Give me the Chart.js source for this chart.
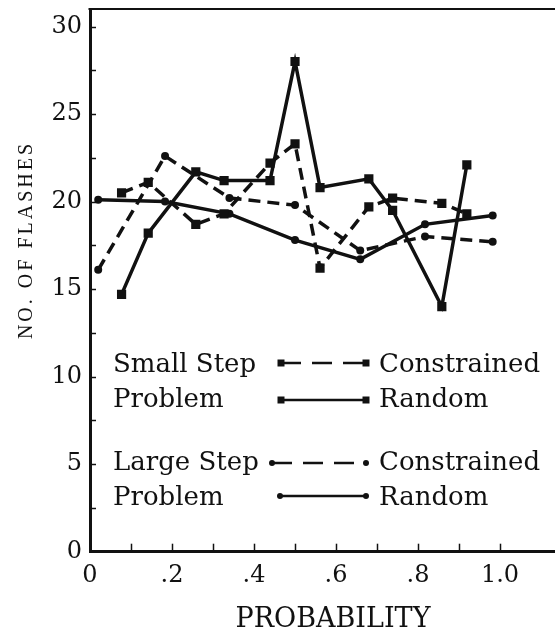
<!DOCTYPE html>
<html>
<head>
<meta charset="utf-8">
<script src="https://cdn.jsdelivr.net/npm/chart.js@4.4.0/dist/chart.umd.min.js"></script>
<style>
  html, body { margin: 0; padding: 0; background: #fff; }
  canvas { display: block; }
</style>
</head>
<body>
<canvas id="flashes" width="555" height="631"></canvas>
<script>
// values
const smallStepX = [0.077, 0.142, 0.258, 0.327, 0.439, 0.5, 0.561, 0.68, 0.738, 0.858, 0.919];
const smallConstrained = [20.5, 21.1, 18.7, 19.3, 22.2, 23.3, 16.2, 19.7, 20.2, 19.9, 19.3];
const smallRandom = [14.7, 18.2, 21.7, 21.2, 21.2, 28.0, 20.8, 21.3, 19.5, 14.0, 22.1];
const largeStepX = [0.02, 0.183, 0.34, 0.5, 0.659, 0.817, 0.982];
const largeConstrained = [16.1, 22.6, 20.2, 19.8, 17.2, 18.0, 17.7];
const largeRandom = [20.1, 20.0, 19.3, 17.8, 16.7, 18.7, 19.2];
const xTicks = [0, 0.2, 0.4, 0.6, 0.8, 1.0];
const yTicks = [0, 5, 10, 15, 20, 25, 30];

const INK = '#111';
const SERIF = '"DejaVu Serif", serif';
const DASH = [12, 7];

function points(xs, ys) {
    return xs.map((x, i) => ({ x: x, y: ys[i] }));
}

function series(label, xs, ys, style, dashed) {
    const square = style === 'rect';
    return {
        label: label,
        data: points(xs, ys),
        showLine: true,
        borderColor: INK,
        backgroundColor: INK,
        borderWidth: 3.5,
        borderDash: dashed ? DASH : [],
        pointStyle: style,
        pointRadius: square ? 6.5 : 4,
        pointBorderWidth: 0,
        pointBackgroundColor: INK,
        tension: 0
    };
}

function fmtX(v) {
    if (v === 0) return '0';
    if (v >= 1) return v.toFixed(1);
    return v.toFixed(1).replace(/^0/, '');
}

function legendRow(ctx, left, right, baseline, lineY, x0, x1, style, dashed) {
    ctx.font = '26px ' + SERIF;
    ctx.fillStyle = INK;
    ctx.textAlign = 'left';
    ctx.textBaseline = 'alphabetic';
    ctx.fillText(left, 113, baseline);
    ctx.fillText(right, 379, baseline);

    ctx.save();
    ctx.strokeStyle = INK;
    ctx.lineWidth = 2.5;
    ctx.setLineDash(dashed ? [20, 11] : []);
    ctx.beginPath();
    ctx.moveTo(x0, lineY);
    ctx.lineTo(x1, lineY);
    ctx.stroke();
    ctx.restore();

    [x0, x1].forEach(x => {
        ctx.beginPath();
        if (style === 'rect') {
            ctx.rect(x - 3.5, lineY - 3.5, 7, 7);
        } else {
            ctx.arc(x, lineY, 3, 0, Math.PI * 2);
        }
        ctx.fill();
    });
}

const decor = {
    id: 'decor',
    afterDraw(chart) {
        const ctx = chart.ctx;
        const area = chart.chartArea;
        const xs = chart.scales.x;
        const ys = chart.scales.y;
        ctx.save();
        ctx.strokeStyle = INK;

        // frame top line
        ctx.lineWidth = 2;
        ctx.beginPath();
        ctx.moveTo(area.left - 1.5, area.top);
        ctx.lineTo(chart.width, area.top);
        ctx.stroke();

        // inward ticks
        ctx.lineWidth = 1.5;
        for (let v = 2.5; v <= 30; v += 2.5) {
            const y = Math.round(ys.getPixelForValue(v)) + 0.5;
            ctx.beginPath();
            ctx.moveTo(area.left, y);
            ctx.lineTo(area.left + 6, y);
            ctx.stroke();
        }
        for (let i = 1; i <= 10; i++) {
            const x = Math.round(xs.getPixelForValue(i / 10)) + 0.5;
            ctx.beginPath();
            ctx.moveTo(x, area.bottom);
            ctx.lineTo(x, area.bottom - 8);
            ctx.stroke();
        }

        // axis titles
        ctx.fillStyle = INK;
        ctx.font = '27px ' + SERIF;
        ctx.textAlign = 'center';
        ctx.textBaseline = 'alphabetic';
        ctx.fillText('PROBABILITY', 333, 627);

        ctx.save();
        ctx.translate(27, 240);
        ctx.rotate(-Math.PI / 2);
        ctx.font = '20px "Liberation Serif", serif';
        ctx.letterSpacing = '3px';
        ctx.textBaseline = 'middle';
        ctx.fillText('NO. OF FLASHES', 0, 0);
        ctx.restore();

        // legend
        legendRow(ctx, 'Small Step', 'Constrained', 372, 363, 281, 366, 'rect', true);
        legendRow(ctx, 'Problem', 'Random', 407, 400, 281, 366, 'rect', false);
        legendRow(ctx, 'Large Step', 'Constrained', 470, 463, 272, 366, 'circle', true);
        legendRow(ctx, 'Problem', 'Random', 505, 496, 280, 366, 'circle', false);

        ctx.restore();
    }
};

Chart.defaults.color = INK;
Chart.defaults.font.family = SERIF;

new Chart(document.getElementById('flashes'), {
    type: 'scatter',
    data: {
        datasets: [
            series('Small Step Constrained', smallStepX, smallConstrained, 'rect', true),
            series('Small Step Random', smallStepX, smallRandom, 'rect', false),
            series('Large Step Constrained', largeStepX, largeConstrained, 'circle', true),
            series('Large Step Random', largeStepX, largeRandom, 'circle', false)
        ]
    },
    options: {
        responsive: false,
        animation: false,
        layout: { autoPadding: false, padding: { top: 9, right: 0, left: 0, bottom: 0 } },
        plugins: {
            legend: { display: false },
            tooltip: { enabled: false }
        },
        scales: {
            x: {
                type: 'linear',
                min: 0,
                max: 1.134,
                afterFit(scale) {
                    scale.height = 79.3;
                    scale.paddingLeft = 0;
                    scale.paddingRight = 0;
                },
                afterBuildTicks(scale) { scale.ticks = xTicks.map(v => ({ value: v })); },
                grid: { display: false, drawTicks: false },
                border: { display: true, color: INK, width: 3 },
                ticks: {
                    padding: 10,
                    font: { size: 24 },
                    color: INK,
                    maxRotation: 0,
                    autoSkip: false,
                    callback: v => fmtX(v)
                }
            },
            y: {
                type: 'linear',
                min: 0,
                max: 31,
                afterFit(scale) {
                    scale.width = 90;
                    scale.paddingTop = 0;
                    scale.paddingBottom = 0;
                },
                afterBuildTicks(scale) { scale.ticks = yTicks.map(v => ({ value: v })); },
                grid: { display: false, drawTicks: false },
                border: { display: true, color: INK, width: 3 },
                ticks: {
                    padding: 8,
                    font: { size: 24 },
                    color: INK,
                    autoSkip: false
                }
            }
        }
    },
    plugins: [decor]
});
</script>
</body>
</html>
